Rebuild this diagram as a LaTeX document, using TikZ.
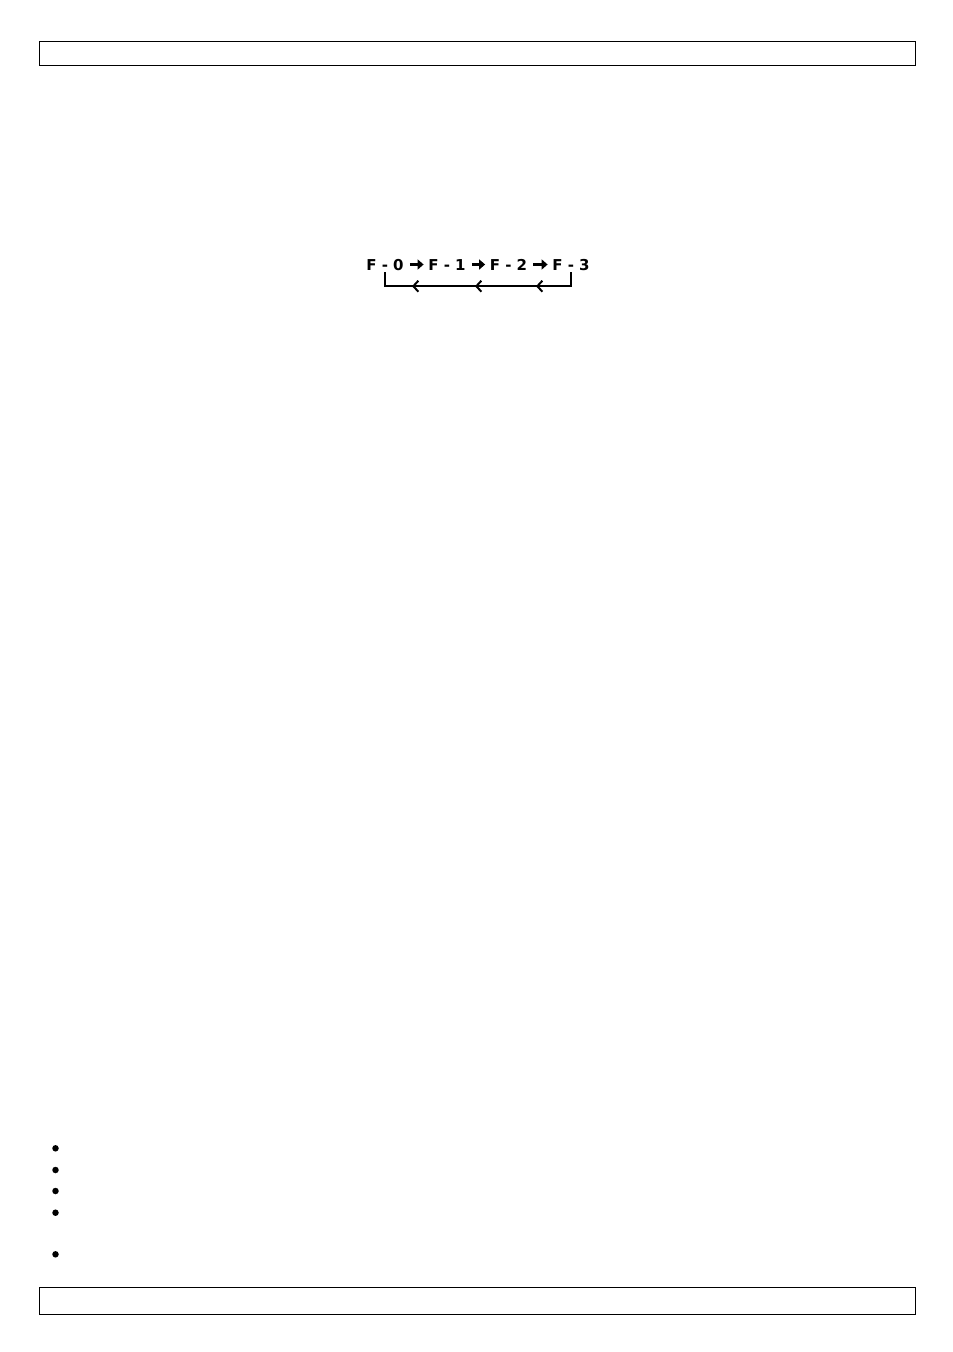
\documentclass[tikz,border=0pt]{standalone}
\usepackage{fontspec}
\setmainfont{DejaVu Sans}
\usetikzlibrary{arrows.meta,calc,decorations.markings}
\tikzset{chev/.tip={Straight Barb[length=5pt,width=11pt,line width=2pt]}}
\begin{document}
\begin{tikzpicture}[x=1pt,y=-1pt,
  frame/.style={draw=black,line width=1.2pt},
  step label/.style={inner sep=0pt,font=\fontsize{15}{15}\bfseries\selectfont,text height=11pt,text depth=0pt},
  fwd/.style={line width=2.8pt,-{Triangle[length=6pt,width=10pt]},shorten <=6pt,shorten >=4.5pt},
  back/.style={line width=2pt,postaction={decorate},decoration={markings,
      mark=at position 49pt with {\arrow{chev}},
      mark=at position 110pt with {\arrow{chev}},
      mark=at position 173pt with {\arrow{chev}}}},
  bullet/.style={circle,fill=black,inner sep=0pt,minimum size=6.5pt}]
\useasboundingbox (0,0) rectangle (953,1352);
\fill[white] (0,0) rectangle (953,1352);
% header and footer frames
\node[frame,minimum width=876pt,minimum height=24pt,inner sep=0pt,anchor=north west] (header) at (38.5,40.5) {};
\node[frame,minimum width=876pt,minimum height=27pt,inner sep=0pt,anchor=north west] (footer) at (38.5,1286.5) {};
% step sequence
\node[step label] (f0) at (385,264.5) {F - 0};
\node[step label] (f1) at (447,264.5) {F - 1};
\node[step label] (f2) at (508.5,264.5) {F - 2};
\node[step label] (f3) at (571,264.5) {F - 3};
\draw[fwd] (f0.east) -- (f1.west);
\draw[fwd] (f1.east) -- (f2.west);
\draw[fwd] (f2.east) -- (f3.west);
\coordinate (b3) at ($(f3.south)+(0,2)$);
\coordinate (b0) at ($(f0.south)+(0,2)$);
\draw[back] (b3) -- ++(0,14) -| (b0);
% bullets
\node[bullet] (p1) at (55.5,1148.3) {};
\node[bullet] (p2) at (55.5,1170) {};
\node[bullet] (p3) at (55.5,1191) {};
\node[bullet] (p4) at (55.5,1212.7) {};
\node[bullet] (p5) at (55.5,1254.3) {};
\end{tikzpicture}
\end{document}
